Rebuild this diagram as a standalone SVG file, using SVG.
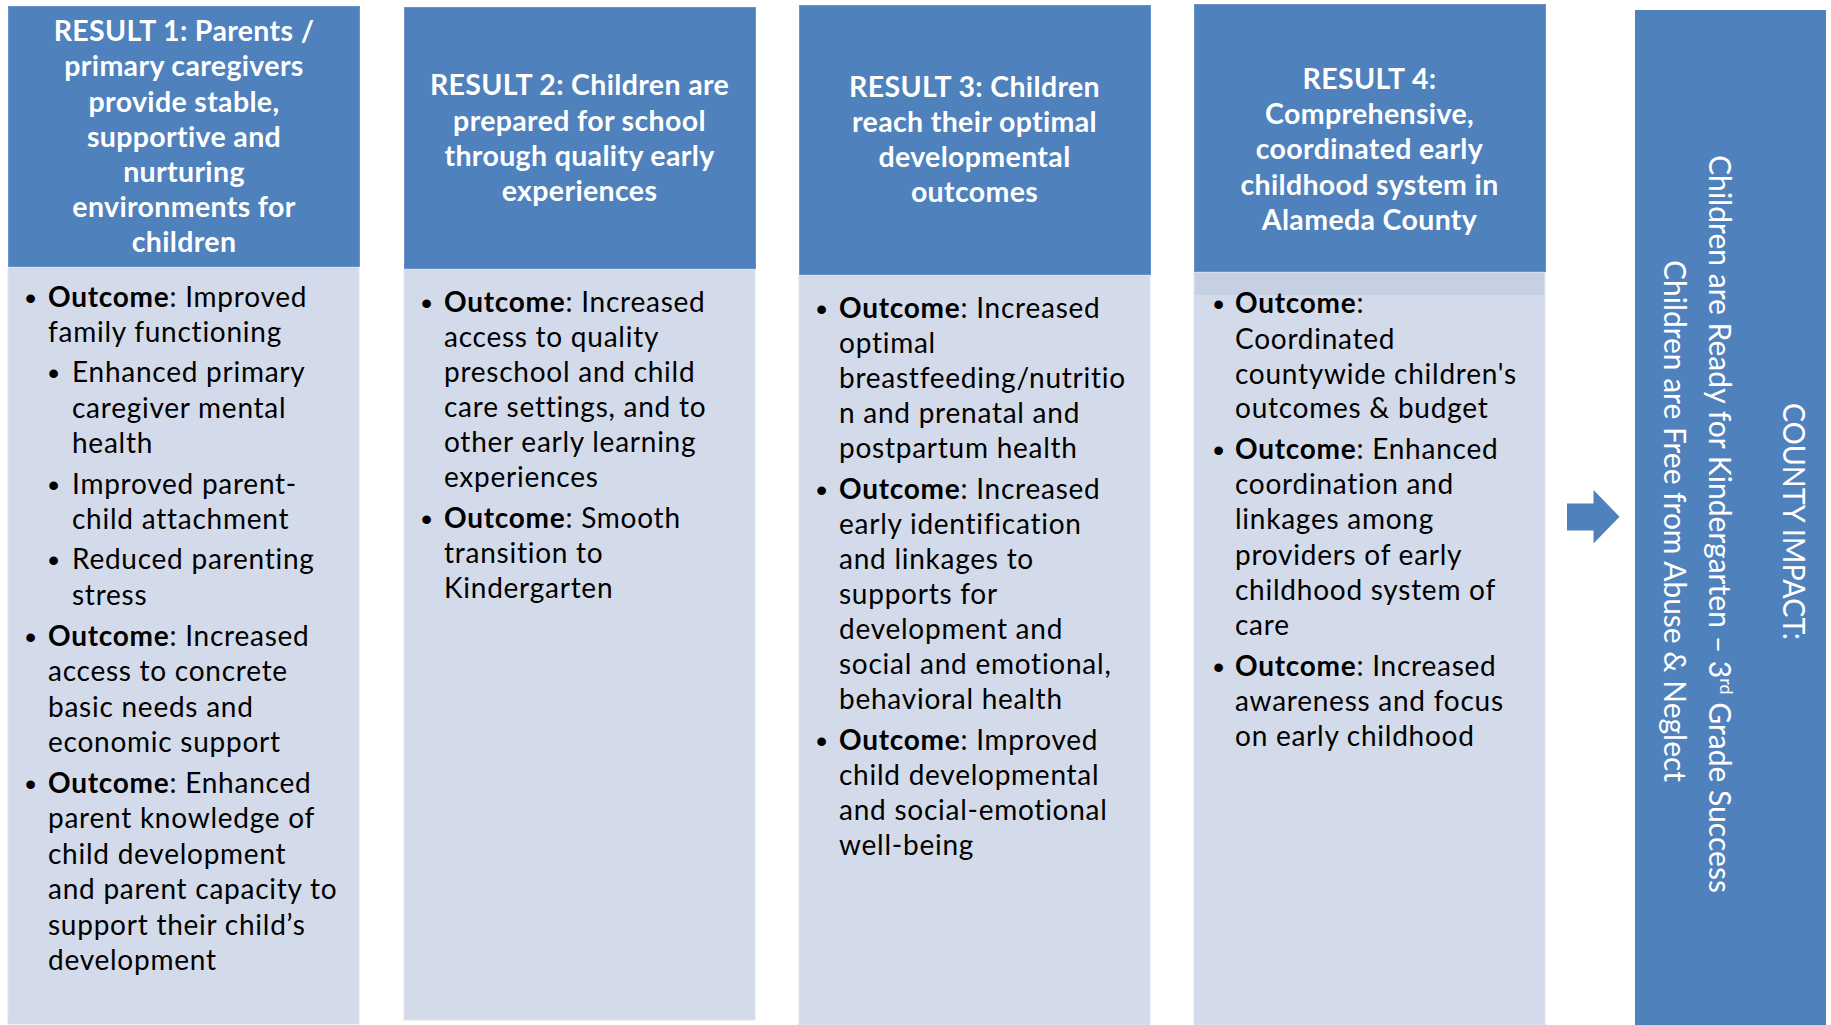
<svg xmlns="http://www.w3.org/2000/svg" width="1831" height="1025" viewBox="0 0 1831 1025">
<style>
.hdr{fill:#4f81bd;stroke:#6b93c8;stroke-width:1}
.body{fill:#d3dbea;stroke:#dde3ee;stroke-width:1}
.ht{font-family:Lato,"Liberation Sans",sans-serif;font-weight:bold;font-size:28.5px;letter-spacing:0.35px;fill:#ffffff;text-anchor:middle}
.bt{font-family:Lato,"Liberation Sans",sans-serif;font-size:28px;letter-spacing:0.75px;fill:#000000}
.bt .b{font-weight:bold}
.bul{font-family:"Liberation Sans",sans-serif;font-size:32px;fill:#000000}
.rt{font-family:Lato,"Liberation Sans",sans-serif;font-size:30px;fill:#ffffff}
.arrow{fill:#4f81bd}
</style>
<rect width="1831" height="1025" fill="#ffffff"/>

<g id="result1">
<rect class="body" x="8" y="267" width="351" height="757"/>
<rect class="hdr" x="8.5" y="6.5" width="351" height="260"/>
<text class="ht"><tspan x="184" y="41">RESULT 1: Parents /</tspan><tspan x="184" y="76">primary caregivers</tspan><tspan x="184" y="111.5">provide stable,</tspan><tspan x="184" y="146.7">supportive and</tspan><tspan x="184" y="182">nurturing</tspan><tspan x="184" y="217">environments for</tspan><tspan x="184" y="252">children</tspan></text>
<text class="bul"><tspan x="25" y="309">•</tspan><tspan x="48" y="384">•</tspan><tspan x="48" y="496">•</tspan><tspan x="48" y="571">•</tspan><tspan x="25" y="648">•</tspan><tspan x="25" y="795">•</tspan></text>
<text class="bt"><tspan x="48" y="307"><tspan class="b">Outcome</tspan>: Improved</tspan><tspan x="48" y="342">family functioning</tspan><tspan x="72" y="382">Enhanced primary</tspan><tspan x="72" y="418">caregiver mental</tspan><tspan x="72" y="453">health</tspan><tspan x="72" y="494">Improved parent-</tspan><tspan x="72" y="529">child attachment</tspan><tspan x="72" y="569">Reduced parenting</tspan><tspan x="72" y="605">stress</tspan><tspan x="48" y="646"><tspan class="b">Outcome</tspan>: Increased</tspan><tspan x="48" y="681">access to concrete</tspan><tspan x="48" y="717">basic needs and</tspan><tspan x="48" y="752">economic support</tspan><tspan x="48" y="793"><tspan class="b">Outcome</tspan>: Enhanced</tspan><tspan x="48" y="828">parent knowledge of</tspan><tspan x="48" y="864">child development</tspan><tspan x="48" y="899">and parent capacity to</tspan><tspan x="48" y="935">support their child’s</tspan><tspan x="48" y="970">development</tspan></text>
</g>

<g id="result2">
<rect class="body" x="404" y="269" width="351" height="751"/>
<rect class="hdr" x="404.5" y="7.5" width="351" height="261"/>
<text class="ht"><tspan x="579.5" y="95">RESULT 2: Children are</tspan><tspan x="579.5" y="130.5">prepared for school</tspan><tspan x="579.5" y="165.7">through quality early</tspan><tspan x="579.5" y="200.7">experiences</tspan></text>
<text class="bul"><tspan x="421" y="314">•</tspan><tspan x="421" y="530">•</tspan></text>
<text class="bt"><tspan x="444" y="312"><tspan class="b">Outcome</tspan>: Increased</tspan><tspan x="444" y="347">access to quality</tspan><tspan x="444" y="382">preschool and child</tspan><tspan x="444" y="417">care settings, and to</tspan><tspan x="444" y="452">other early learning</tspan><tspan x="444" y="487">experiences</tspan><tspan x="444" y="528"><tspan class="b">Outcome</tspan>: Smooth</tspan><tspan x="444" y="563">transition to</tspan><tspan x="444" y="598">Kindergarten</tspan></text>
</g>

<g id="result3">
<rect class="body" x="799" y="275" width="351" height="750"/>
<rect class="hdr" x="799.5" y="5.5" width="351" height="269"/>
<text class="ht"><tspan x="974.5" y="96.7">RESULT 3: Children</tspan><tspan x="974.5" y="131.7">reach their optimal</tspan><tspan x="974.5" y="166.7">developmental</tspan><tspan x="974.5" y="201.7">outcomes</tspan></text>
<text class="bul"><tspan x="816" y="320">•</tspan><tspan x="816" y="501">•</tspan><tspan x="816" y="752">•</tspan></text>
<text class="bt"><tspan x="839" y="318"><tspan class="b">Outcome</tspan>: Increased</tspan><tspan x="839" y="353">optimal</tspan><tspan x="839" y="388">breastfeeding/nutritio</tspan><tspan x="839" y="423">n and prenatal and</tspan><tspan x="839" y="458">postpartum health</tspan><tspan x="839" y="499"><tspan class="b">Outcome</tspan>: Increased</tspan><tspan x="839" y="534">early identification</tspan><tspan x="839" y="569">and linkages to</tspan><tspan x="839" y="604">supports for</tspan><tspan x="839" y="639">development and</tspan><tspan x="839" y="674">social and emotional,</tspan><tspan x="839" y="709">behavioral health</tspan><tspan x="839" y="750"><tspan class="b">Outcome</tspan>: Improved</tspan><tspan x="839" y="785">child developmental</tspan><tspan x="839" y="820">and social-emotional</tspan><tspan x="839" y="855">well-being</tspan></text>
</g>

<g id="result4">
<rect class="body" x="1194" y="272" width="351" height="753"/>
<rect x="1195" y="273" width="349" height="22" fill="#c5d0e3"/>
<rect class="hdr" x="1194.5" y="4.5" width="351" height="267"/>
<text class="ht"><tspan x="1369.5" y="89.3">RESULT 4:</tspan><tspan x="1369.5" y="124">Comprehensive,</tspan><tspan x="1369.5" y="159.3">coordinated early</tspan><tspan x="1369.5" y="194.5">childhood system in</tspan><tspan x="1369.5" y="230">Alameda County</tspan></text>
<text class="bul"><tspan x="1213" y="315">•</tspan><tspan x="1213" y="461">•</tspan><tspan x="1213" y="678">•</tspan></text>
<text class="bt"><tspan x="1235" y="313"><tspan class="b">Outcome</tspan>:</tspan><tspan x="1235" y="349">Coordinated</tspan><tspan x="1235" y="384">countywide children's</tspan><tspan x="1235" y="418">outcomes &amp; budget</tspan><tspan x="1235" y="459"><tspan class="b">Outcome</tspan>: Enhanced</tspan><tspan x="1235" y="494">coordination and</tspan><tspan x="1235" y="529">linkages among</tspan><tspan x="1235" y="565">providers of early</tspan><tspan x="1235" y="600">childhood system of</tspan><tspan x="1235" y="635">care</tspan><tspan x="1235" y="676"><tspan class="b">Outcome</tspan>: Increased</tspan><tspan x="1235" y="711">awareness and focus</tspan><tspan x="1235" y="746">on early childhood</tspan></text>
</g>

<g id="connectors">
<path class="arrow" d="M1567,503.5 H1593.5 V490 L1619.5,516.7 L1593.5,543.5 V530.5 H1567 Z"/>
</g>

<g id="county-impact">
<rect x="1635" y="10" width="191" height="1015" fill="#4f81bd"/>
<text class="rt" transform="translate(1783,403) rotate(90)" textLength="237" lengthAdjust="spacingAndGlyphs">COUNTY IMPACT:</text>
<text class="rt" transform="translate(1709,155) rotate(90)" textLength="738" lengthAdjust="spacingAndGlyphs">Children are Ready for Kindergarten – 3<tspan font-size="18" baseline-shift="super">rd</tspan> Grade Success</text>
<text class="rt" transform="translate(1663.5,260) rotate(90)" textLength="522" lengthAdjust="spacingAndGlyphs">Children are Free from Abuse &amp; Neglect</text>
</g>
</svg>
